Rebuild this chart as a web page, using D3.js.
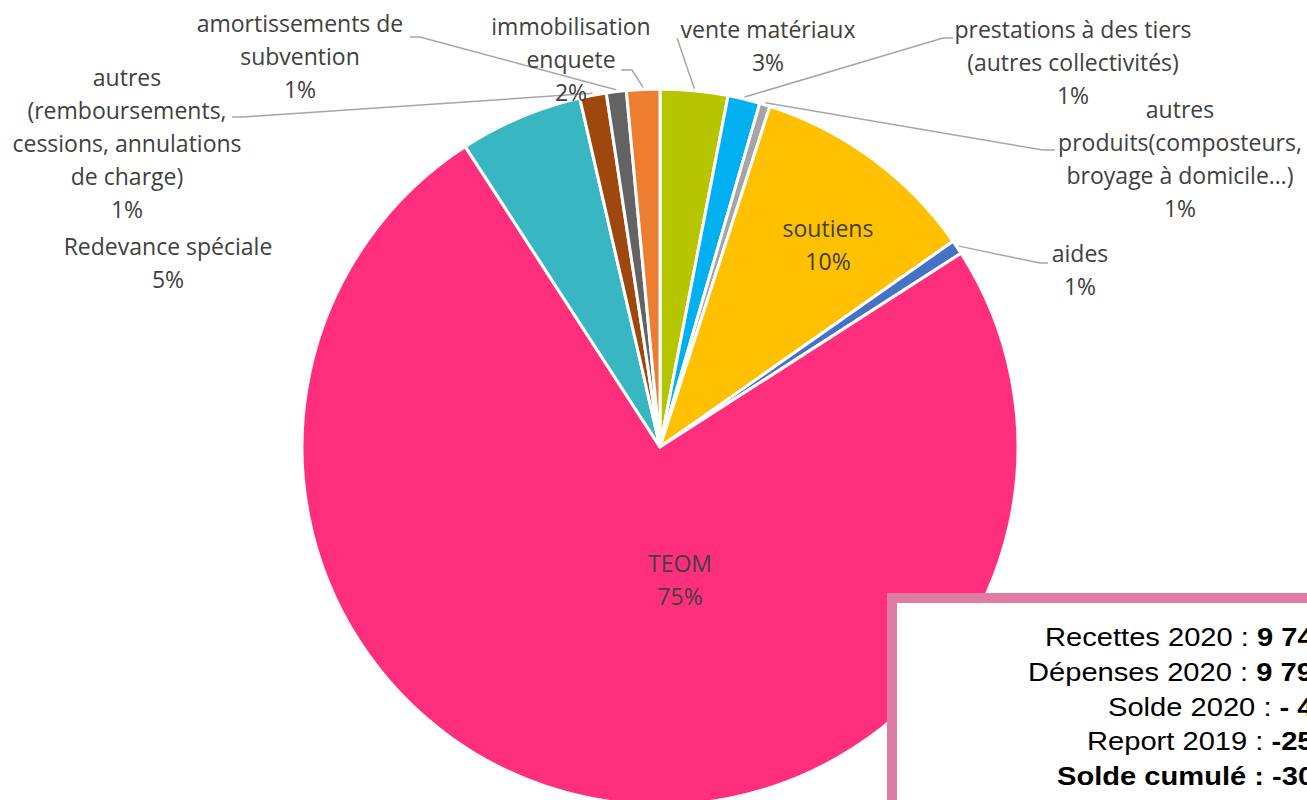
<!DOCTYPE html>
<html>
<head>
<meta charset="utf-8">
<script src="https://cdn.jsdelivr.net/npm/d3@7"></script>
<style>
  body {margin: 0; background: #fff; overflow: hidden}
  svg {display: block}
</style>
</head>
<body>
<svg id="chart" width="1307" height="800"></svg>
<script>
// recettes 2020, share of each item (percent)
var categories = [
  'vente matériaux',
  'prestations à des tiers\n(autres collectivités)',
  'autres\nproduits(composteurs,\nbroyage à domicile…)',
  'soutiens',
  'aides',
  'TEOM',
  'Redevance spéciale',
  'autres\n(remboursements,\ncessions, annulations\nde charge)',
  'amortissements de\nsubvention',
  'immobilisation\nenquete'
]
var values = [3.05, 1.45, 0.47, 10.3, 0.64, 75.0, 5.56, 1.2, 0.9, 1.5]
var pctLabels = ['3%', '1%', '1%', '10%', '1%', '75%', '5%', '1%', '1%', '2%']
var colors = ['#B7C400', '#00B0F0', '#A5A5A5', '#FFC000', '#4472C4', '#FF2F7E', '#38B6C2', '#9E480E', '#636363', '#ED7D31']

var summaryLines = [
  ['Recettes 2020 : ', '9 74'],
  ['Dépenses 2020 : ', '9 79'],
  ['Solde 2020 : ', '- 4'],
  ['Report 2019 : ', '-25'],
  ['Solde cumulé : ', '-30']
]

// label layout: centre x, first line y, optional leader elbow [x, y, horizontal end x]
var labelLayout = [
  {x: 768, y: 30, leader: [677, 38, 677]},
  {x: 1073, y: 30, leader: [943, 38, 953]},
  {x: 1180, y: 110, leader: [1043, 150, 1055]},
  {x: 828, y: 229},
  {x: 1080, y: 254, leader: [1040, 263, 1048]},
  {x: 680, y: 564},
  {x: 168, y: 247},
  {x: 127, y: 78, leader: [243, 117, 232]},
  {x: 300, y: 24, leader: [420, 37, 410]},
  {x: 571, y: 27, leader: [632, 70, 621]}
]

var width = 1307, height = 800
var cx = 660, cy = 447, r = 358
var lineH = 33

var svg = d3.select('#chart')
var g = svg.append('g').attr('transform', `translate(${cx},${cy})`)

var pie = d3.pie().sort(null).value(d => d)
var arcs = pie(values)
var arc = d3.arc().innerRadius(0).outerRadius(r)

g.selectAll('path.slice').data(arcs).join('path')
  .attr('class', 'slice')
  .attr('d', arc)
  .attr('fill', (d, i) => colors[i])
  .attr('stroke', '#fff')
  .attr('stroke-width', 3)
  .attr('stroke-linejoin', 'round')

// leader lines
arcs.forEach((d, i) => {
  var lay = labelLayout[i]
  if (!lay.leader) return
  var a = (d.startAngle + d.endAngle)/2
  var p0 = [cx + Math.sin(a)*(r + 2), cy - Math.cos(a)*(r + 2)]
  var [ex, ey, hx] = lay.leader
  svg.append('path')
    .attr('d', `M${p0[0]},${p0[1]} L${ex},${ey} L${hx},${ey}`)
    .attr('fill', 'none')
    .attr('stroke', '#A6A6A6')
    .attr('stroke-width', 1.5)
})

// labels
var labelSel = svg.selectAll('text.lbl').data(arcs).join('text')
  .attr('class', 'lbl')
  .attr('text-anchor', 'middle')
  .attr('font-family', '"Open Sans", sans-serif')
  .attr('font-size', 23)
  .attr('fill', '#404040')

labelSel.each(function(d, i){
  var sel = d3.select(this)
  var lay = labelLayout[i]
  var lines = categories[i].split('\n').concat(pctLabels[i])
  lines.forEach((t, k) => {
    sel.append('tspan')
      .attr('x', lay.x)
      .attr('y', lay.y + k*lineH)
      .attr('dy', '0.35em')
      .text(t)
  })
})

// summary box
var box = svg.append('g')
box.append('rect')
  .attr('x', 892).attr('y', 598)
  .attr('width', 500).attr('height', 300)
  .attr('fill', '#fff')
  .attr('stroke', '#E07CA3')
  .attr('stroke-width', 10)

var lineStarts = [1045, 1028, 1108, 1087, 1057]
summaryLines.forEach((l, i) => {
  var t = box.append('text')
    .attr('transform', `translate(${lineStarts[i]},${637 + i*34.75}) scale(1.12,1)`)
    .attr('dy', '0.35em')
    .attr('font-family', '"Liberation Sans", Arial, sans-serif')
    .attr('font-size', 26)
    .attr('fill', '#000')
    .attr('font-weight', i == 4 ? 'bold' : 'normal')
  t.append('tspan').text(l[0])
  t.append('tspan').attr('font-weight', 'bold').text(l[1])
})
</script>
</body>
</html>
